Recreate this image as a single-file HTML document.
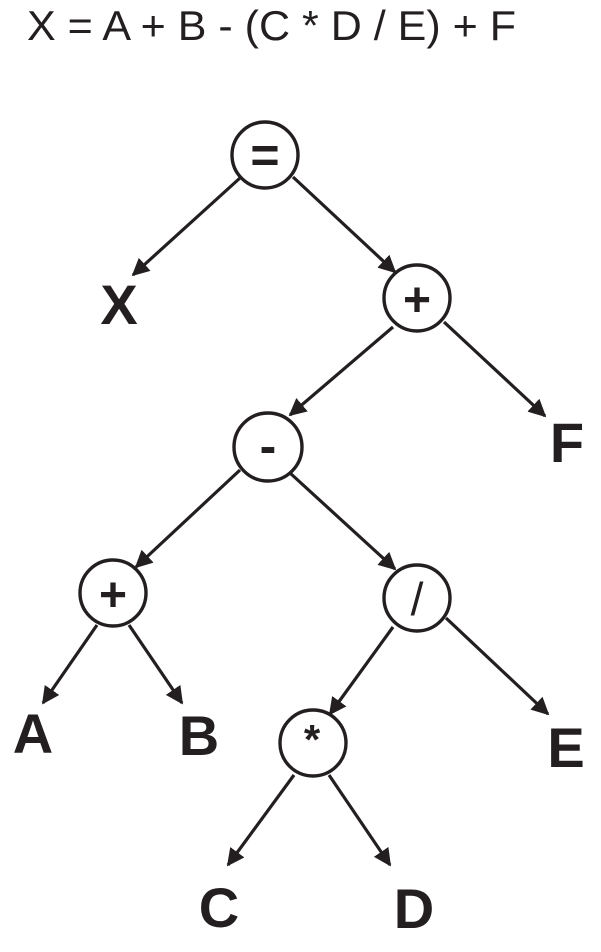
<!DOCTYPE html>
<html><head><meta charset="utf-8"><style>html,body{margin:0;padding:0;background:#fff}</style></head>
<body>
<svg width="601" height="947" viewBox="0 0 601 947" xmlns="http://www.w3.org/2000/svg">
<defs>
<marker id="a" viewBox="0 0 10 10" refX="9" refY="5" markerWidth="5.5" markerHeight="5.5" orient="auto" markerUnits="strokeWidth">
<path d="M0,0 L10,5 L0,10 z" fill="#231f20"/>
</marker>
</defs>
<text x="27" y="40" font-family="Liberation Sans, sans-serif" font-size="42" fill="#231f20" textLength="489" lengthAdjust="spacingAndGlyphs">X = A + B - (C * D / E) + F</text>
<g stroke="#231f20" stroke-width="3.2" fill="none" marker-end="url(#a)">
<line x1="240" y1="178" x2="133" y2="275"/>
<line x1="293" y1="177" x2="395" y2="272"/>
<line x1="444" y1="322" x2="545" y2="416"/>
<line x1="393" y1="327" x2="290" y2="415"/>
<line x1="240" y1="470" x2="136" y2="567"/>
<line x1="290" y1="473" x2="395" y2="569"/>
<line x1="97" y1="625" x2="43" y2="703"/>
<line x1="129" y1="625" x2="182" y2="703"/>
<line x1="393" y1="627" x2="330" y2="714"/>
<line x1="446" y1="618" x2="548" y2="714"/>
<line x1="294" y1="775" x2="228" y2="865"/>
<line x1="329" y1="775" x2="390" y2="865"/>
</g>
<g stroke="#231f20" stroke-width="3.4" fill="#fff">
<circle cx="265" cy="155" r="33"/>
<circle cx="417" cy="298" r="33"/>
<circle cx="268" cy="447" r="34"/>
<circle cx="113" cy="593" r="33"/>
<circle cx="417" cy="598" r="33"/>
<circle cx="313" cy="743" r="33"/>
</g>
<g font-family="Liberation Sans, sans-serif" font-weight="bold" fill="#231f20" text-anchor="middle">
<text x="265" y="172" font-size="50">=</text>
<text x="417" y="316" font-size="48">+</text>
<text x="268" y="463" font-size="50">-</text>
<text x="113" y="611" font-size="48">+</text>
<text x="417" y="615" font-size="46" font-weight="normal">/</text>
<text x="312" y="754" font-size="42">*</text>
<g font-size="56">
<text x="119" y="324">X</text>
<text x="567" y="462">F</text>
<text x="33" y="753">A</text>
<text x="199" y="755">B</text>
<text x="566" y="767">E</text>
<text x="219" y="927">C</text>
<text x="414" y="928">D</text>
</g>
</g>
</svg>
</body></html>
